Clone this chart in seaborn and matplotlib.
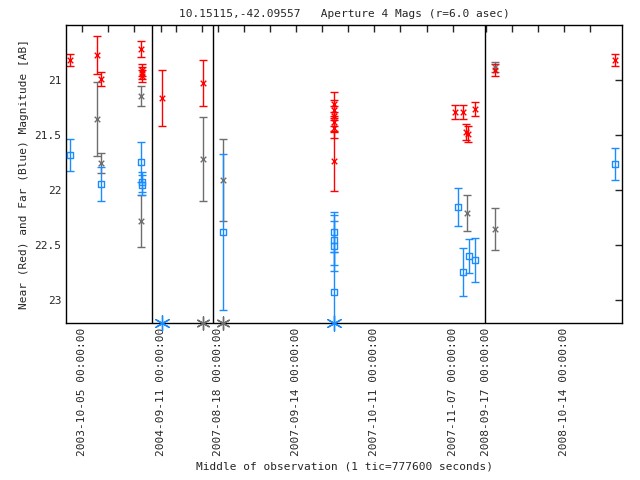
import matplotlib
matplotlib.use("Agg")
import matplotlib.pyplot as plt
import seaborn as sns
import pandas as pd

def mag(y): return 21 + (y - 80) / 110.0
def er(e): return e / 110.0

# x in tic-axis units, y in magnitudes (converted from readings)
near_x = [70, 97, 101, 141, 142, 142, 142, 162, 203, 334, 334, 334, 334, 334, 334, 455, 463, 466, 468, 475, 495, 615]
near_y = [mag(v) for v in [60, 55, 79, 49, 70, 73, 76, 98, 83, 104, 110, 116, 122, 128, 161, 112, 112, 132, 134, 109, 70, 60]]
near_e = [er(v) for v in [6, 19, 7, 8, 6, 6, 6, 28, 23, 12, 10, 10, 10, 10, 30, 7, 7, 8, 8, 7, 6, 6]]

far_x = [70, 101, 141, 142, 142, 223, 334, 334, 334, 334, 458, 463, 469, 475, 615]
far_y = [mag(v) for v in [155, 184, 162, 182, 185, 232, 232, 240, 246, 292, 207, 272, 256, 260, 164]]
far_e = [er(v) for v in [16, 17, 20, 10, 10, 78, 20, 25, 25, 40, 19, 24, 17, 22, 16]]

grey_x = [97, 101, 141, 141, 203, 223, 467, 495, 495]
grey_y = [mag(v) for v in [119, 163, 96, 221, 159, 180, 213, 229, 67]]
grey_e = [er(v) for v in [37, 10, 10, 26, 42, 41, 18, 21, 5]]

lim_blue_x = [162, 334]
lim_grey_x = [203, 223]

tick_pos = [82, 108, 134, 161, 176, 202, 218, 244, 270, 296, 322, 348, 374, 400, 427, 453, 486, 512, 538, 564, 590]
tick_lab_map = {82: "2003-10-05 00:00:00", 161: "2004-09-11 00:00:00", 218: "2007-08-18 00:00:00",
                296: "2007-09-14 00:00:00", 374: "2007-10-11 00:00:00", 453: "2007-11-07 00:00:00",
                486: "2008-09-17 00:00:00", 564: "2008-10-14 00:00:00"}
breaks = [152, 213, 485]

RED, BLUE, GREY = "#ff0000", "#1a8cff", "#6e6e6e"

sns.set_style("white")
plt.rcParams["font.family"] = ["DejaVu Sans Mono"]
fig = plt.figure(figsize=(6.4, 4.8), dpi=100)
ax = fig.add_axes([66/640, 1-323/480, (622-66)/640, (323-25)/480])

ymin, ymax = 20.5, mag(323)
for xs, ys, es, c, m in [(grey_x, grey_y, grey_e, GREY, "x"), (near_x, near_y, near_e, RED, "x"), (far_x, far_y, far_e, BLUE, "s")]:
    ax.errorbar(xs, ys, yerr=es, fmt="none", ecolor=c, elinewidth=1, capsize=3, capthick=1)
    df = pd.DataFrame({"x": xs, "y": ys})
    sns.scatterplot(data=df, x="x", y="y", ax=ax, marker=m, s=18 if m == "s" else 16,
                    facecolors="none" if m == "s" else None, edgecolor=c if m == "s" else None,
                    color=c, linewidth=1, zorder=3)

df = pd.DataFrame({"x": lim_blue_x, "y": [ymax] * len(lim_blue_x)})
sns.scatterplot(data=df, x="x", y="y", ax=ax, marker=(6, 2, 0), s=120, color=BLUE, linewidth=1, clip_on=False, zorder=4)
df = pd.DataFrame({"x": lim_grey_x, "y": [ymax] * len(lim_grey_x)})
sns.scatterplot(data=df, x="x", y="y", ax=ax, marker=(6, 2, 0), s=90, color=GREY, linewidth=1, clip_on=False, zorder=4)

for b in breaks:
    ax.axvline(b, color="black", lw=1)

ax.set_xlim(66, 622)
ax.set_ylim(ymax, ymin)
ax.set_yticks([21, 21.5, 22, 22.5, 23])
ax.set_yticklabels(["21", "21.5", "22", "22.5", "23"], fontsize=8)
ax.set_xticks(tick_pos)
ax.set_xticklabels([tick_lab_map.get(t, "") for t in tick_pos], rotation=90, fontsize=8)
ax.tick_params(direction="in", length=5, top=True, right=True, width=1)
for s in ax.spines.values():
    s.set_color("black"); s.set_linewidth(1)
ax.set_xlabel("Middle of observation (1 tic=777600 seconds)", fontsize=8)
ax.set_ylabel("Near (Red) and Far (Blue) Magnitude [AB]", fontsize=8)
ax.set_title("10.15115,-42.09557   Aperture 4 Mags (r=6.0 asec)", fontsize=8)
fig.savefig("out.png", dpi=100)
